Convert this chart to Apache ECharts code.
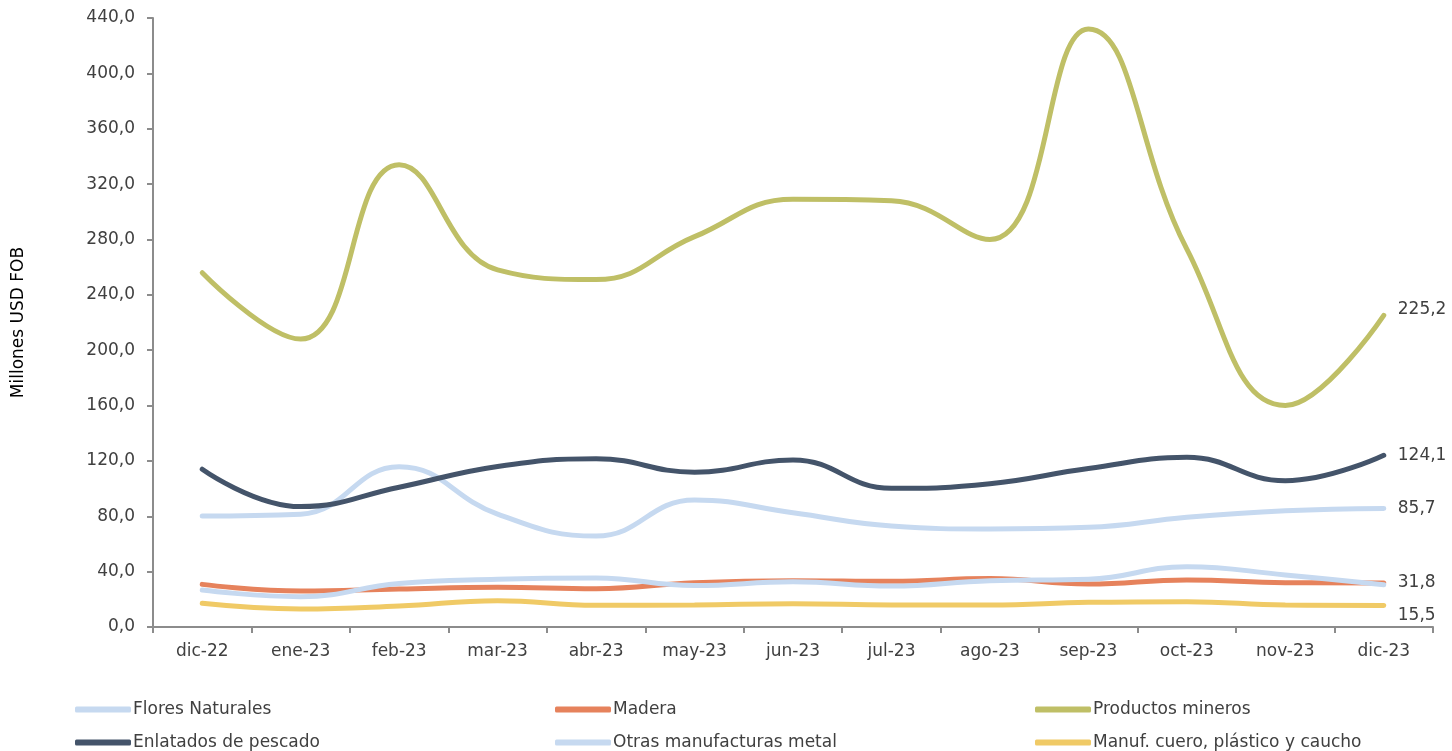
<!DOCTYPE html>
<html>
<head>
<meta charset="utf-8">
<script src="https://cdn.jsdelivr.net/npm/echarts@6/dist/echarts.min.js"></script>
<style>html,body{margin:0;padding:0;background:#fff;}#c{width:1452px;height:751px;}</style>
</head>
<body>
<div id="c"></div>
<script>
const categories = ['dic-22','ene-23','feb-23','mar-23','abr-23','may-23','jun-23','jul-23','ago-23','sep-23','oct-23','nov-23','dic-23'];
const floresNaturales = [80.2, 81.5, 115.8, 81.6, 65.7, 91.8, 82.5, 73.0, 70.8, 72.0, 79.3, 84.0, 85.7];
const madera = [30.8, 26.0, 27.5, 28.7, 27.7, 32.0, 33.5, 33.0, 35.0, 31.0, 34.0, 32.0, 31.8];
const productosMineros = [256.0, 208.0, 334.0, 258.0, 251.0, 282.0, 309.0, 308.0, 280.0, 432.0, 273.0, 160.0, 225.2];
const enlatadosPescado = [114.0, 87.0, 101.0, 116.0, 121.6, 111.8, 120.7, 100.2, 103.5, 114.5, 122.6, 105.7, 124.1];
const otrasManufacturasMetal = [26.7, 21.9, 31.5, 34.5, 35.4, 29.9, 32.7, 29.6, 33.5, 34.5, 43.6, 37.6, 30.5];
const manufCuero = [17.1, 13.0, 15.2, 19.0, 15.7, 15.9, 16.8, 15.9, 15.9, 17.8, 18.3, 15.9, 15.5];
const yTicks = [0, 40, 80, 120, 160, 200, 240, 280, 320, 360, 400, 440];

const FONT = 'DejaVu Sans';
const fmt = v => v.toFixed(1).replace('.', ',');

function endLabel(offsetY) {
  return {
    show: true,
    distance: 14,
    offset: [0, offsetY],
    fontFamily: FONT,
    fontSize: 17,
    color: '#404040',
    formatter: p => fmt(p.value)
  };
}

function mk(name, data, color, label, z) {
  return {
    name: name,
    type: 'line',
    data: data,
    smooth: 0.45,
    symbol: 'none',
    z: z,
    lineStyle: { width: 5, color: color, cap: 'round' },
    itemStyle: { color: color },
    endLabel: label,
    emphasis: { disabled: true }
  };
}

const series = [
  mk('Flores Naturales', floresNaturales, '#C6D9F0', endLabel(0), 2),
  mk('Madera', madera, '#E6825C', endLabel(0), 3),
  mk('Productos mineros', productosMineros, '#BFBF66', endLabel(-6), 2),
  mk('Enlatados de pescado', enlatadosPescado, '#44546A', endLabel(0), 2),
  mk('Otras manufacturas metal', otrasManufacturasMetal, '#C6D9F0', { show: false }, 4),
  mk('Manuf. cuero, plástico y caucho', manufCuero, '#F0CA66', endLabel(10), 2)
];

const legendPos = [
  [75, 701], [555, 701], [1035, 701],
  [75, 734], [555, 734], [1035, 734]
];
const legends = series.map((s, i) => ({
  data: [s.name],
  left: legendPos[i][0],
  top: legendPos[i][1],
  icon: 'roundRect',
  itemWidth: 56,
  itemHeight: 6,
  itemGap: 0,
  padding: 0,
  selectedMode: false,
  textStyle: { fontFamily: FONT, fontSize: 17, color: '#404040', padding: [0, 0, 0, -3] }
}));

const chart = echarts.init(document.getElementById('c'));
chart.setOption({
  animation: false,
  backgroundColor: '#fff',
  grid: { left: 153, right: 19, top: 18, bottom: 124, containLabel: false },
  legend: legends,
  xAxis: {
    type: 'category',
    data: categories,
    boundaryGap: true,
    axisLine: { lineStyle: { color: '#8c8c8c', width: 2 } },
    axisTick: { show: true, length: 6, lineStyle: { color: '#8c8c8c', width: 2 } },
    axisLabel: { fontFamily: FONT, fontSize: 17, color: '#404040', margin: 16 }
  },
  yAxis: {
    type: 'value',
    min: yTicks[0],
    max: yTicks[yTicks.length - 1],
    interval: 40,
    name: 'Millones USD FOB',
    nameLocation: 'middle',
    nameGap: 126,
    nameTextStyle: { fontFamily: FONT, fontSize: 17, color: '#000', fontWeight: 500 },
    axisLine: { show: true, lineStyle: { color: '#8c8c8c', width: 2 } },
    axisTick: { show: true, length: 6, lineStyle: { color: '#8c8c8c', width: 2 } },
    splitLine: { show: false },
    axisLabel: { fontFamily: FONT, fontSize: 17, color: '#404040', margin: 18, formatter: v => fmt(v) }
  },
  series: series
});
</script>
</body>
</html>
